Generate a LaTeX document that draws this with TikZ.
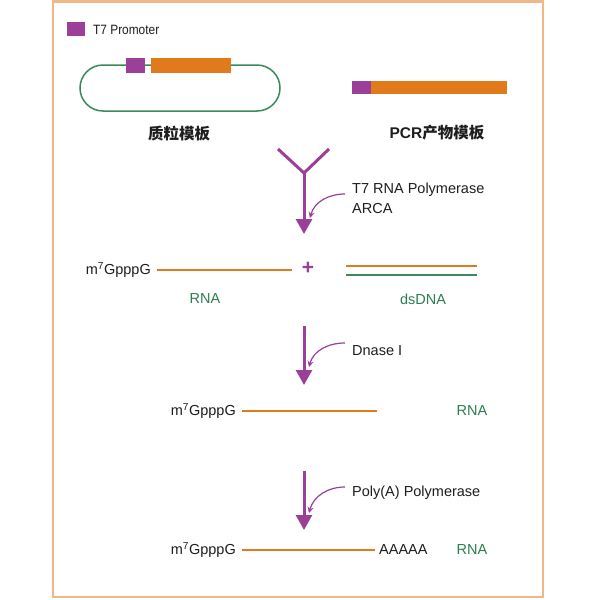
\documentclass[tikz,border=0pt]{standalone}
\usepackage{fontspec}
\setmainfont{Liberation Sans}
\newfontfamily\cjkfont{Noto Sans CJK SC}
\newfontfamily\narrowfont[FakeStretch=0.88]{Liberation Sans}
\usetikzlibrary{arrows.meta}
\definecolor{purp}{HTML}{9C3F98}
\definecolor{orng}{HTML}{E07A1A}
\definecolor{dnagreen}{HTML}{3A8A5C}
\definecolor{txtgreen}{HTML}{2B7E4E}
\definecolor{frameor}{HTML}{F0B886}
\definecolor{txt}{HTML}{1E1E1E}
\tikzset{
  frame/.style={draw=frameor, line width=2.2pt},
  lbl/.style={font=\fontsize{14.5}{16}\selectfont, text=txt, inner sep=0pt},
  glbl/.style={font=\fontsize{14.5}{16}\selectfont, text=txtgreen, inner sep=0pt},
  cjklbl/.style={font=\bfseries\fontsize{15.5}{17}\selectfont, text=txt, inner sep=0pt},
  block/.style={inner sep=0pt, draw=none},
  rnaline/.style={draw=orng, line width=2.4pt},
  dnaline/.style={draw=dnagreen, line width=2pt},
  mainline/.style={draw=purp, line width=3pt},
  mainarrow/.style={draw=purp, line width=3pt, -{Triangle[width=16pt,length=15pt]}},
  curvearrow/.style={draw=purp, line width=1.2pt, -{Stealth[width=6pt,length=6pt]}},
}
\begin{document}
\begin{tikzpicture}[x=1pt,y=-1pt]
\fill[white] (0,0) rectangle (600,600);
\useasboundingbox (0,0) rectangle (600,600);
\draw[frame] (53,1.5) rectangle (543,597);

% legend
\node[block, fill=purp, minimum width=18pt, minimum height=14pt] (legbox) at (76,29) {};
\node[inner sep=0pt, anchor=west, font=\narrowfont\fontsize{13.5}{14}\selectfont, text=txt] (legtext) at (93,30) {T7 Promoter};

% plasmid template
\node[draw=dnagreen, line width=1.5pt, rounded corners=23pt, minimum width=200pt, minimum height=46pt, inner sep=0pt] (plasmid) at (180,88) {};
\node[block, fill=purp, minimum width=19pt, minimum height=15pt] (plpromo) at (135.5,65.5) {};
\node[block, fill=orng, minimum width=80pt, minimum height=15pt] (plgene) at (191,65.5) {};
\node[cjklbl] (pllabel) at (179,134) {\cjkfont 质粒模板};

% PCR template
\node[block, fill=purp, minimum width=19pt, minimum height=13pt] (pcrpromo) at (361.5,87.5) {};
\node[block, fill=orng, minimum width=136pt, minimum height=13pt] (pcrgene) at (439,87.5) {};
\node[cjklbl] (pcrlabel) at (437,133) {PCR{\cjkfont 产物模板}};

% Y-shaped merge and first arrow
\coordinate (yl) at (278,149);
\coordinate (yc) at (304,173);
\coordinate (yr) at (329,149);
\coordinate (a1end) at (304,234);
\draw[mainline, line join=miter] (yl) -- (yc) -- (yr);
\draw[mainarrow] (yc) -- (a1end);
\node[lbl, anchor=west] (enz1) at (352,190) {T7 RNA Polymerase};
\node[lbl, anchor=west] (enz1b) at (352,209) {ARCA};
\coordinate (c1s) at (345,194);
\coordinate (c1e) at (310,218);
\draw[curvearrow] (c1s) to[out=180,in=75] (c1e);

% row 1
\node[lbl, anchor=east] (cap1) at (151,270) {m\textsuperscript{7}GpppG};
\coordinate (r1a) at (157,270);
\coordinate (r1b) at (292,270);
\draw[rnaline] (r1a) -- (r1b);
\node[inner sep=0pt, text=purp, font=\bfseries\fontsize{21}{21}\selectfont] (plus) at (308,268) {+};
\coordinate (d1a) at (346,266);
\coordinate (d1b) at (477,266);
\coordinate (d2a) at (346,275);
\coordinate (d2b) at (477,275);
\draw[rnaline, line width=2.2pt] (d1a) -- (d1b);
\draw[dnaline] (d2a) -- (d2b);
\node[glbl] (rna1) at (205,299) {RNA};
\node[glbl] (dsdna) at (423,299) {dsDNA};

% second arrow
\coordinate (a2s) at (304,326);
\coordinate (a2e) at (304,385);
\draw[mainarrow] (a2s) -- (a2e);
\node[lbl, anchor=west] (enz2) at (352,351) {Dnase I};
\coordinate (c2s) at (345,343);
\coordinate (c2e) at (309,367);
\draw[curvearrow] (c2s) to[out=180,in=75] (c2e);

% row 2
\node[lbl, anchor=east] (cap2) at (236,411) {m\textsuperscript{7}GpppG};
\coordinate (r2a) at (242,411);
\coordinate (r2b) at (377,411);
\draw[rnaline] (r2a) -- (r2b);
\node[glbl] (rna2) at (472,411) {RNA};

% third arrow
\coordinate (a3s) at (304,471);
\coordinate (a3e) at (304,530);
\draw[mainarrow] (a3s) -- (a3e);
\node[lbl, anchor=west] (enz3) at (352,493) {Poly(A) Polymerase};
\coordinate (c3s) at (345,487);
\coordinate (c3e) at (309,513);
\draw[curvearrow] (c3s) to[out=180,in=75] (c3e);

% row 3
\node[lbl, anchor=east] (cap3) at (236,550) {m\textsuperscript{7}GpppG};
\coordinate (r3a) at (242,550);
\coordinate (r3b) at (375,550);
\draw[rnaline] (r3a) -- (r3b);
\node[lbl, anchor=west] (polya) at (379,550) {AAAAA};
\node[glbl] (rna3) at (472,550) {RNA};
\end{tikzpicture}
\end{document}
